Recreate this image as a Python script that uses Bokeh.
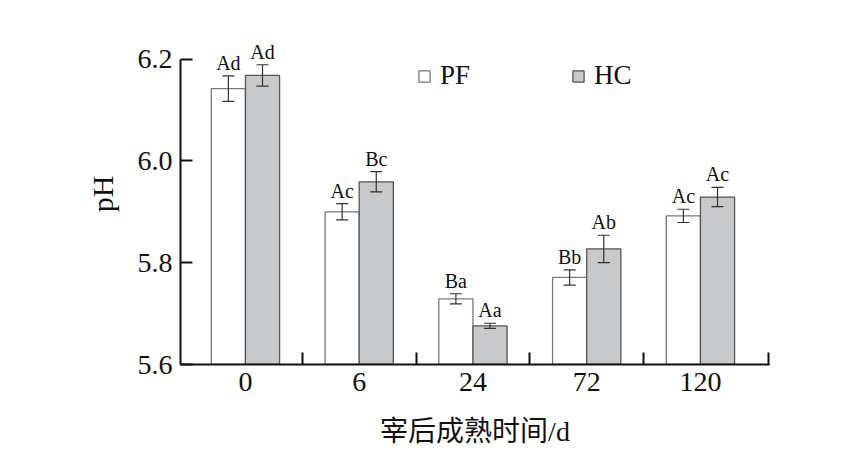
import numpy as np
from bokeh.plotting import figure
from bokeh.models import (ColumnDataSource, Range1d, FixedTicker, Whisker, TeeHead,
                          Legend, LegendItem)
from bokeh.embed import file_html
from bokeh.resources import INLINE

categories = ["0", "6", "24", "72", "120"]
pf_values = [6.142, 5.900, 5.729, 5.771, 5.892]
pf_errors = [0.025, 0.016, 0.010, 0.015, 0.013]
hc_values = [6.168, 5.959, 5.676, 5.827, 5.929]
hc_errors = [0.021, 0.020, 0.005, 0.027, 0.019]
pf_letters = ["Ad", "Ac", "Ba", "Bb", "Ac"]
hc_letters = ["Ad", "Bc", "Aa", "Ab", "Ac"]
y_ticks = [5.6, 5.8, 6.0, 6.2]

SERIF = "Liberation Serif"
BAR_W = 0.3
x = np.arange(len(categories))


def make_source(vals, errs, letters, offset):
    v = np.array(vals)
    e = np.array(errs)
    return ColumnDataSource(dict(
        x=x + offset, top=v, upper=v + e, lower=v - e, label=letters))


pf_src = make_source(pf_values, pf_errors, pf_letters, -BAR_W / 2)
hc_src = make_source(hc_values, hc_errors, hc_letters, BAR_W / 2)

p = figure(frame_width=589, frame_height=341, output_backend="svg",
           toolbar_location=None,
           x_range=Range1d(-0.571, 4.607), y_range=Range1d(5.6, 6.27),
           min_border_left=180, min_border_top=23, min_border_right=60,
           min_border_bottom=84)
p.outline_line_color = None
p.xgrid.visible = False
p.ygrid.visible = False
p.background_fill_color = "white"
p.border_fill_color = "white"

pf_r = p.vbar(x="x", top="top", bottom=5.6, width=BAR_W, source=pf_src,
              fill_color="white", line_color="#7a7a7a", line_width=1.3)
hc_r = p.vbar(x="x", top="top", bottom=5.6, width=BAR_W, source=hc_src,
              fill_color="#c8c9cb", line_color="#555555", line_width=1.3)

for src in (pf_src, hc_src):
    w = Whisker(base="x", upper="upper", lower="lower", source=src,
                level="overlay",
                line_color="#333333", line_width=1.2,
                upper_head=TeeHead(size=12, line_color="#333333", line_width=1.2),
                lower_head=TeeHead(size=12, line_color="#333333", line_width=1.2))
    p.add_layout(w)
    p.text(x="x", y="upper", text="label", source=src, text_align="center",
           text_baseline="bottom", y_offset=-2, text_font_size="20px",
           text_font={"value": SERIF}, text_color="#111111")

xa = p.xaxis[0]
ya = p.yaxis[0]

# x axis
xa.ticker = FixedTicker(ticks=list(x), minor_ticks=[0.5, 1.5, 2.5, 3.5, 4.6])
xa.major_label_overrides = {int(i): c for i, c in zip(x, categories)}
xa.major_tick_in = 0
xa.major_tick_out = 0
xa.minor_tick_in = 12
xa.minor_tick_out = 0
xa.minor_tick_line_width = 2
xa.minor_tick_line_color = "#111111"
xa.axis_label = "宰后成熟时间/d"
xa.axis_label_text_font = "'Liberation Serif', 'Noto Sans CJK SC'"
xa.axis_label_text_font_style = "normal"
xa.axis_label_text_font_size = "28px"
xa.axis_label_standoff = 22
xa.major_label_standoff = 8

# y axis
ya.bounds = (5.6, 6.2)
ya.ticker = FixedTicker(ticks=y_ticks, minor_ticks=[])
ya.major_label_overrides = {t: f"{t:.1f}" for t in y_ticks}
ya.major_tick_in = 12
ya.major_tick_out = 0
ya.minor_tick_in = 0
ya.minor_tick_out = 0
ya.major_tick_line_width = 2
ya.axis_label = "pH"
ya.axis_label_text_font = SERIF
ya.axis_label_text_font_style = "normal"
ya.axis_label_text_font_size = "30px"
ya.axis_label_standoff = 16
ya.major_label_standoff = 8

for ax in (xa, ya):
    ax.axis_line_width = 2
    ax.axis_line_color = "#111111"
    ax.major_tick_line_color = "#111111"
    ax.major_label_text_font = SERIF
    ax.major_label_text_font_size = "28px"
    ax.major_label_text_color = "#111111"
    ax.axis_label_text_color = "#111111"

legend = Legend(items=[LegendItem(label="PF", renderers=[pf_r]),
                       LegendItem(label="HC", renderers=[hc_r])],
                orientation="horizontal", location=(237, 273),
                glyph_width=14, glyph_height=14, label_standoff=9, spacing=101,
                padding=0, margin=0, border_line_color=None,
                background_fill_alpha=0, label_text_font=SERIF,
                label_text_font_size="27px", label_text_color="#111111")
p.add_layout(legend, "center")

open("out.html", "w").write(file_html(p, INLINE))
